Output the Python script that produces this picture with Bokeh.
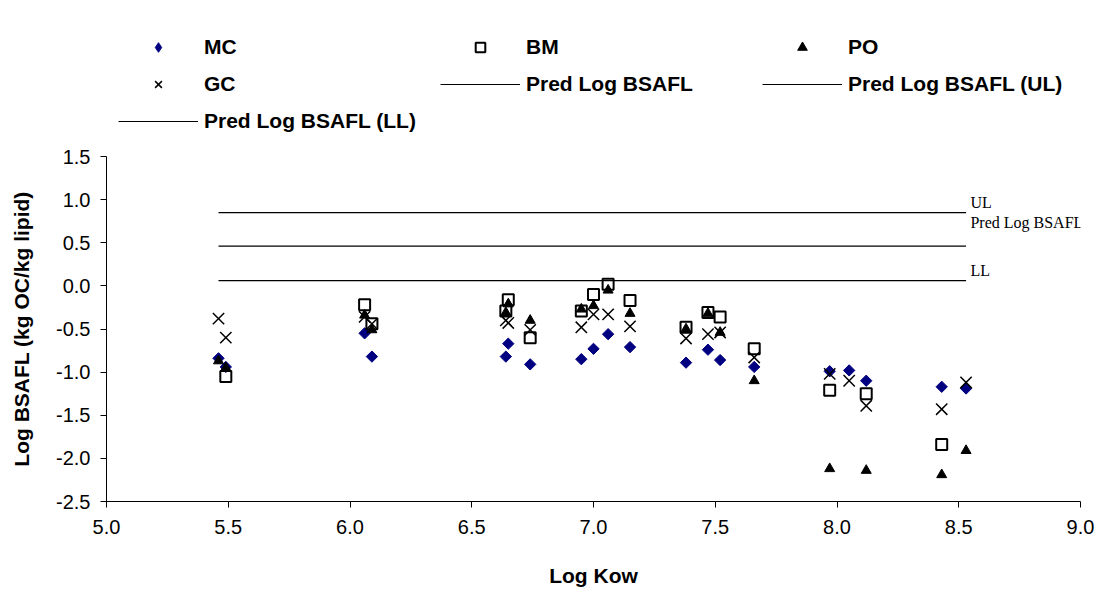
import math
from bokeh.plotting import figure
from bokeh.layouts import column
from bokeh.models import Range1d, FixedTicker, NumeralTickFormatter, Legend, LegendItem, Label
from bokeh.embed import file_html
from bokeh.resources import INLINE

# ---- data ----
kow_mc = [5.46, 5.49, 6.06, 6.09, 6.64, 6.65, 6.74, 6.95, 7.00, 7.06, 7.15, 7.38, 7.47, 7.52, 7.66, 7.97, 8.05, 8.12, 8.43, 8.53]
mc = [-0.84, -0.94, -0.55, -0.82, -0.82, -0.67, -0.91, -0.85, -0.73, -0.56, -0.71, -0.89, -0.74, -0.86, -0.94, -0.99, -0.98, -1.10, -1.17, -1.19]

kow_bm = [5.49, 6.06, 6.09, 6.64, 6.65, 6.74, 6.95, 7.00, 7.06, 7.15, 7.38, 7.47, 7.52, 7.66, 7.97, 8.12, 8.43]
bm = [-1.05, -0.22, -0.44, -0.29, -0.16, -0.60, -0.29, -0.10, 0.02, -0.17, -0.48, -0.31, -0.36, -0.73, -1.21, -1.25, -1.84]

kow_po = [5.46, 5.49, 6.06, 6.09, 6.64, 6.65, 6.74, 6.95, 7.00, 7.06, 7.15, 7.38, 7.47, 7.52, 7.66, 7.97, 8.12, 8.43, 8.53]
po = [-0.87, -0.95, -0.34, -0.51, -0.31, -0.21, -0.40, -0.27, -0.23, -0.05, -0.32, -0.50, -0.32, -0.54, -1.10, -2.12, -2.14, -2.19, -1.91]

kow_gc = [5.46, 5.49, 6.06, 6.09, 6.64, 6.65, 6.74, 6.95, 7.00, 7.06, 7.15, 7.38, 7.47, 7.52, 7.66, 7.97, 8.05, 8.12, 8.43, 8.53]
gc = [-0.38, -0.60, -0.36, -0.44, -0.40, -0.43, -0.51, -0.48, -0.33, -0.33, -0.47, -0.61, -0.56, -0.54, -0.83, -1.02, -1.10, -1.39, -1.43, -1.12]

pred_kow = [5.46, 8.53]
pred = [0.46, 0.46]
pred_ul = [0.85, 0.85]
pred_ll = [0.06, 0.06]

x_ticks = [5.0, 5.5, 6.0, 6.5, 7.0, 7.5, 8.0, 8.5, 9.0]
y_ticks = [-2.5, -2.0, -1.5, -1.0, -0.5, 0.0, 0.5, 1.0, 1.5]

series_names = ["MC", "BM", "PO", "GC", "Pred Log BSAFL", "Pred Log BSAFL (UL)", "Pred Log BSAFL (LL)"]

SANS = "Liberation Sans"
SERIF = "Liberation Serif"
NAVY = "#000080"

# ---------------- main chart ----------------
p = figure(width=1102, height=447, output_backend="svg", toolbar_location=None,
           x_range=Range1d(5.0, 9.0), y_range=Range1d(-2.5, 1.5),
           min_border_left=106, min_border_right=22, min_border_top=12, min_border_bottom=90)
p.outline_line_color = None
p.xgrid.visible = False
p.ygrid.visible = False
p.background_fill_color = "white"
p.border_fill_color = "white"

for ax in (p.xaxis[0], p.yaxis[0]):
    ax.axis_line_color = "black"
    ax.major_tick_line_color = "black"
    ax.major_tick_in = 0
    ax.major_tick_out = 6
    ax.minor_tick_line_color = None
    ax.major_label_text_font = SANS
    ax.major_label_text_font_size = "20px"
    ax.major_label_text_color = "black"
    ax.axis_label_text_font = SANS
    ax.axis_label_text_font_size = "21px"
    ax.axis_label_text_font_style = "bold"
    ax.axis_label_text_color = "black"
    ax.formatter = NumeralTickFormatter(format="0.0")

p.xaxis.ticker = FixedTicker(ticks=x_ticks)
p.yaxis.ticker = FixedTicker(ticks=y_ticks)
p.xaxis.axis_label = "Log Kow"
p.yaxis.axis_label = "Log BSAFL (kg OC/kg lipid)"
p.xaxis.major_label_standoff = 12
p.yaxis.major_label_standoff = 10
p.xaxis.axis_label_standoff = 27
p.yaxis.axis_label_standoff = 20

p.line(pred_kow, pred, line_color="black", line_width=1.2)
p.line(pred_kow, pred_ul, line_color="black", line_width=1.2)
p.line(pred_kow, pred_ll, line_color="black", line_width=1.2)

p.scatter(kow_mc, mc, marker="square", angle=math.pi / 4, size=8,
          fill_color=NAVY, line_color=NAVY, line_width=1)
p.scatter(kow_bm, bm, marker="square", size=11, fill_color=None,
          line_color="black", line_width=2)
p.scatter(kow_po, po, marker="triangle", size=10, fill_color="black",
          line_color="black", line_width=1)
p.scatter(kow_gc, gc, marker="x", size=16, line_color="black", line_width=1.5)

for txt, yv in (("UL", 0.97), ("Pred Log BSAFL", 0.73), ("LL", 0.18)):
    p.add_layout(Label(x=8.548, y=yv, text=txt, text_font=SERIF, text_font_size="16px",
                       text_color="black", text_baseline="middle", text_align="left"))

# ---------------- legend strip ----------------
# The strip's ranges exclude every data value, so its key renderers draw
# nothing themselves; they only supply the legend swatches.
lg = figure(width=1102, height=144, output_backend="svg", toolbar_location=None,
            x_range=Range1d(100, 101), y_range=Range1d(100, 101),
            x_axis_type=None, y_axis_type=None,
            min_border_left=0, min_border_right=0, min_border_top=0, min_border_bottom=0)
lg.outline_line_color = None
lg.xgrid.visible = False
lg.ygrid.visible = False
lg.border_fill_color = "white"
lg.background_fill_color = "white"

k_mc = lg.scatter(x=kow_mc[:1], y=mc[:1], marker="diamond", fill_color=NAVY, line_color=NAVY)
k_bm = lg.scatter(x=kow_bm[:1], y=bm[:1], marker="square", fill_color=None, line_color="black", line_width=2)
k_po = lg.scatter(x=kow_po[:1], y=po[:1], marker="triangle", fill_color="black", line_color="black")
k_gc = lg.scatter(x=kow_gc[:1], y=gc[:1], marker="x", line_color="black", line_width=1.5)
k_pred = lg.line(x=pred_kow, y=pred, line_color="black", line_width=1.2)
k_ul = lg.line(x=pred_kow, y=pred_ul, line_color="black", line_width=1.2)
k_ll = lg.line(x=pred_kow, y=pred_ll, line_color="black", line_width=1.2)
keys = [k_mc, k_bm, k_po, k_gc, k_pred, k_ul, k_ll]

legend = Legend(items=[LegendItem(label=n, renderers=[r]) for n, r in zip(series_names, keys)],
                ncols=3, orientation="horizontal", location=(12, 11))
legend.label_text_font = SANS
legend.label_text_font_size = "21px"
legend.label_text_font_style = "bold"
legend.label_text_color = "black"
legend.glyph_width = 80
legend.glyph_height = 24
legend.label_standoff = 6
legend.label_width = 223
legend.label_height = 20
legend.spacing = 13
legend.padding = 0
legend.margin = 0
legend.border_line_color = None
legend.background_fill_color = None
lg.add_layout(legend, "center")

layout = column(lg, p, spacing=0)
open("out.html", "w").write(file_html(layout, INLINE))
